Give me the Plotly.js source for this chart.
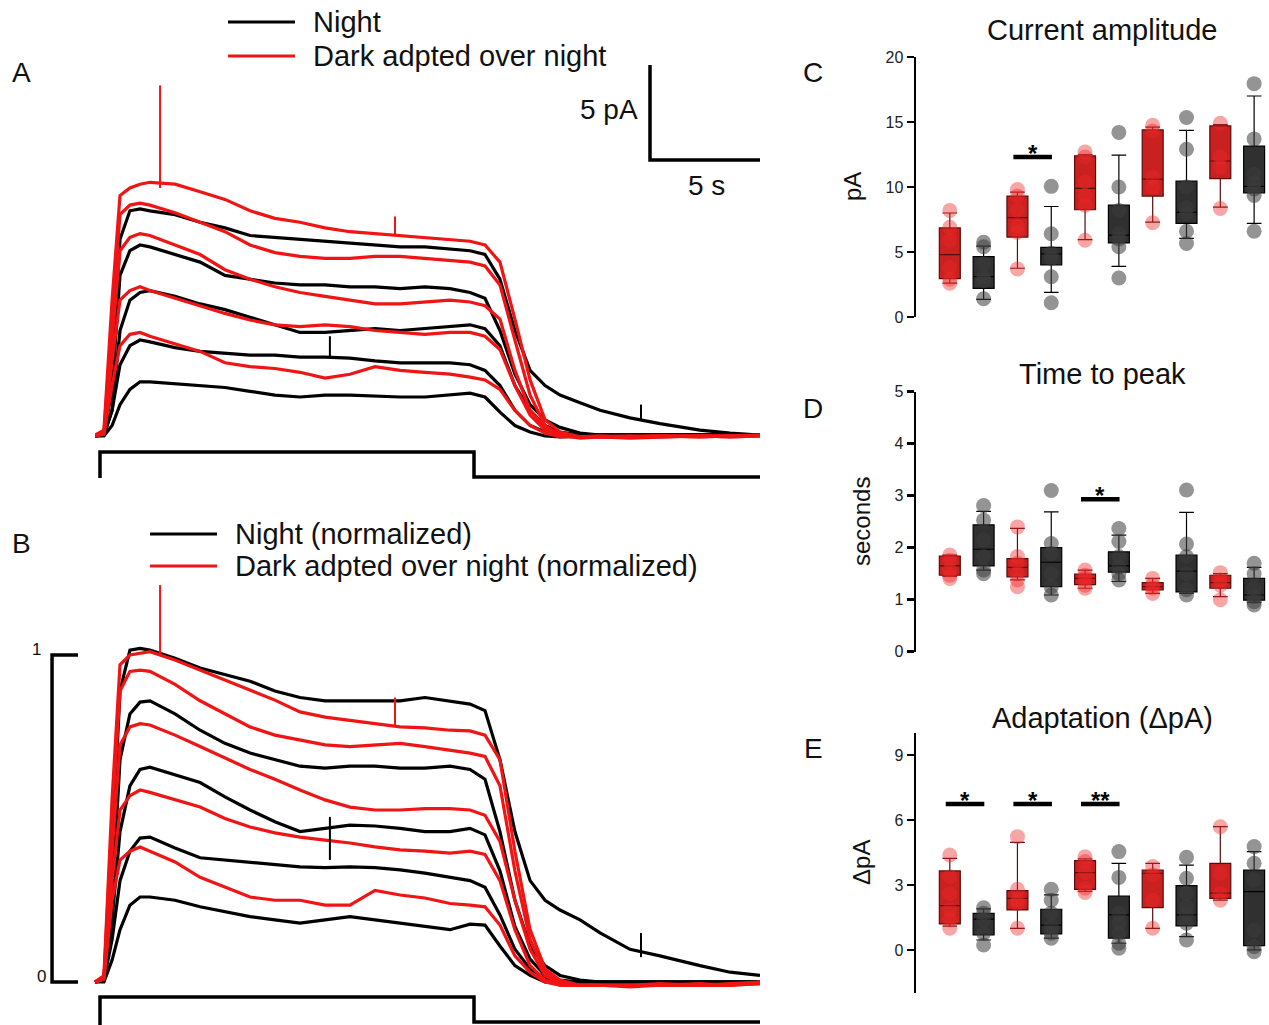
<!DOCTYPE html>
<html><head><meta charset="utf-8">
<script src="https://cdn.plot.ly/plotly-3.0.1.min.js"></script>
<style>html,body{margin:0;padding:0;background:#fff}#chart{width:1269px;height:1025px}</style>
</head><body><div id="chart"></div>
<script>
// ---------- Panel A / B traces (time in s, light on 0..17 s) ----------
const timeS = [-0.23,0.18,0.55,0.91,1.36,1.82,2.27,3.41,4.55,5.68,6.82,7.95,9.09,10.23,11.36,12.5,13.64,14.77,15.91,16.82,17.5,18.18,18.86,19.55,20.23,20.91,21.82,22.73,24.09,25.45,27.27,28.64,30];
const lightOn = 0, lightOff = 17, recEnd = 30;

// Panel A, current (pA)
const nightA1 = [-0.05,0.05,2.9,10.3,11.8,11.9,11.8,11.6,11.2,10.9,10.5,10.4,10.3,10.2,10.1,10.0,9.9,9.9,9.8,9.7,9.5,8.2,5.5,3.4,2.6,2.1,1.7,1.3,0.9,0.6,0.26,0.1,0];
const nightA2 = [-0.05,0.05,2.4,8.4,9.7,10.0,9.9,9.5,9.1,8.4,8.2,8.0,7.9,7.9,7.8,7.8,7.7,7.8,7.7,7.5,7.2,5.5,3.2,1.6,0.8,0.4,0.1,0,0,0,0,0,0];
const nightA3 = [-0.05,0,1.3,5.5,7.1,7.5,7.6,7.3,6.9,6.6,6.2,5.8,5.4,5.4,5.5,5.6,5.5,5.6,5.7,5.8,5.6,4.7,2.6,1.3,0.5,0.16,0,0,0,0,0,0,0];
const nightA4 = [-0.05,0,1.3,3.7,4.7,5.0,4.9,4.6,4.4,4.3,4.2,4.2,4.1,4.1,4.05,3.9,3.8,3.8,3.8,3.7,3.4,2.6,1.3,0.5,0.16,0,0,0,0,0,0,0,0];
const nightA5 = [-0.05,-0.05,0.5,1.6,2.4,2.8,2.8,2.7,2.6,2.5,2.3,2.1,2.0,2.1,2.1,2.05,2.0,2.0,2.1,2.2,2.0,1.2,0.5,0.16,-0.05,-0.1,-0.05,0,0,0,0,0,0];
const darkA1 = [0,0.26,7.1,12.6,13.0,13.2,13.3,13.2,12.8,12.4,11.8,11.4,11.2,10.9,10.7,10.6,10.5,10.4,10.3,10.2,10.0,9.1,6.1,2.9,0.8,0.16,-0.1,-0.1,-0.1,-0.05,-0.05,-0.05,0];
const darkA2 = [-0.05,0.16,6.05,11.6,12.1,12.2,12.1,11.7,11.2,10.7,10.0,9.6,9.4,9.3,9.3,9.4,9.4,9.3,9.2,9.1,8.9,7.9,5.0,2.1,0.5,0,-0.16,-0.1,-0.16,-0.1,-0.05,-0.1,-0.05];
const darkA3 = [-0.05,0.1,5.0,9.7,10.4,10.6,10.5,10.0,9.5,8.7,8.2,7.8,7.5,7.3,7.1,6.9,6.9,7.0,7.1,7.0,6.8,6.1,3.4,1.3,0.4,0,-0.1,-0.1,-0.1,-0.05,-0.1,-0.05,0];
const darkA4 = [-0.05,0.1,3.9,7.1,7.6,7.8,7.6,7.2,6.8,6.4,6.05,5.8,5.7,5.8,5.7,5.5,5.4,5.3,5.4,5.4,5.2,4.5,2.6,1.05,0.26,-0.05,-0.1,-0.1,-0.05,-0.1,-0.05,-0.1,-0.05];
const darkA5 = [-0.05,0.05,2.6,4.7,5.3,5.4,5.2,4.8,4.4,3.8,3.6,3.5,3.3,3.0,3.2,3.6,3.4,3.3,3.2,3.05,2.9,2.4,1.3,0.5,0.1,-0.1,-0.1,-0.05,-0.1,-0.05,-0.1,-0.05,-0.05];
const spikeA_t = [2.73,13.41,10.45,24.59];
const spikeA_from = [13.0,10.5,5.2,0.8];
const spikeA_to = [18.4,11.5,4.1,1.6];
const spike_isDark = [true,true,false,false];

// Panel B, normalized
const nightB1 = [0,0.012,0.40,0.89,1.015,1.02,1.015,0.99,0.96,0.94,0.92,0.89,0.87,0.86,0.86,0.86,0.86,0.87,0.86,0.85,0.83,0.68,0.46,0.31,0.25,0.22,0.19,0.15,0.10,0.08,0.05,0.03,0.02];
const nightB2 = [0,0.01,0.25,0.68,0.82,0.856,0.86,0.82,0.77,0.73,0.70,0.68,0.66,0.654,0.66,0.66,0.654,0.654,0.66,0.65,0.62,0.46,0.25,0.11,0.05,0.02,0.006,0,0,0,0,0,0];
const nightB3 = [0,0.005,0.19,0.46,0.60,0.65,0.657,0.633,0.61,0.566,0.526,0.49,0.46,0.47,0.48,0.477,0.47,0.46,0.46,0.47,0.45,0.34,0.17,0.07,0.02,0.006,0,0,0,0,0,0,0];
const nightB4 = [0,0.005,0.13,0.31,0.40,0.44,0.443,0.41,0.38,0.373,0.364,0.358,0.352,0.35,0.352,0.35,0.343,0.333,0.32,0.31,0.29,0.205,0.10,0.04,0.012,0,0,0,0,0,0,0,0];
const nightB5 = [0,0,0.067,0.16,0.235,0.26,0.26,0.25,0.23,0.214,0.2,0.19,0.18,0.19,0.2,0.19,0.18,0.168,0.16,0.177,0.174,0.11,0.05,0.02,0,-0.005,0,0,0,0,0,0,0];
const darkB1 = [0,0.02,0.56,0.97,1.0,1.006,1.01,0.985,0.954,0.924,0.893,0.862,0.826,0.81,0.80,0.79,0.78,0.777,0.77,0.768,0.755,0.68,0.40,0.16,0.04,0.006,-0.01,-0.01,-0.01,-0.005,-0.01,-0.005,0];
const darkB2 = [0,0.015,0.50,0.89,0.95,0.954,0.95,0.91,0.86,0.82,0.78,0.755,0.74,0.725,0.72,0.725,0.73,0.72,0.71,0.70,0.69,0.60,0.34,0.13,0.03,0,-0.01,-0.01,-0.015,-0.01,-0.01,-0.01,-0.005];
const darkB3 = [0,0.012,0.40,0.725,0.78,0.79,0.786,0.755,0.72,0.685,0.65,0.62,0.587,0.557,0.535,0.526,0.526,0.53,0.53,0.526,0.51,0.43,0.25,0.10,0.02,-0.006,-0.01,-0.01,-0.01,-0.01,-0.005,-0.01,0];
const darkB4 = [0,0.01,0.31,0.526,0.57,0.587,0.58,0.557,0.535,0.50,0.474,0.456,0.443,0.434,0.425,0.413,0.404,0.40,0.394,0.40,0.39,0.31,0.16,0.05,0.006,-0.01,-0.01,-0.01,-0.01,-0.01,-0.01,-0.01,-0.005];
const darkB5 = [0,0.01,0.25,0.373,0.40,0.413,0.40,0.367,0.32,0.29,0.26,0.25,0.25,0.235,0.235,0.28,0.266,0.257,0.24,0.235,0.23,0.174,0.08,0.03,0,-0.01,-0.01,-0.01,-0.01,-0.01,-0.01,-0.01,0];
const spikeB_from = [1.0,0.78,0.505,0.15];
const spikeB_to = [1.214,0.87,0.373,0.076];

// ---------- Panel C/D/E box summaries (order: dark, night, dark, night ...) ----------
const ampQ1  = [2.95,2.2,6.15,4.0,8.25,5.7,9.3,7.2,10.65,9.55];
const ampMed = [4.8,3.1,7.65,4.85,9.9,6.3,10.6,8.05,12.0,10.05];
const ampQ3  = [6.85,4.65,9.3,5.35,12.4,8.6,14.4,10.45,14.7,13.15];
const ampLo  = [2.6,1.35,3.75,1.9,5.95,3.9,7.3,6.05,8.45,7.2];
const ampHi  = [8.0,5.45,9.6,8.5,12.5,12.45,14.6,14.35,14.8,17.0];
const ampPts = [[8.2,6.9,5.9,3.8,2.9,2.6],[5.75,5.4,4.1,3.1,2.8,1.4],[9.8,9.3,8.2,7.0,6.5,3.7],[10.05,6.4,4.9,4.5,3.1,1.1],[12.7,12.3,10.4,9.35,8.6,5.9],[14.2,10.0,8.2,6.4,6.0,5.4,3.0],[14.75,14.3,10.75,10.0,7.25],[15.35,12.9,10.0,8.4,7.95,6.6,5.65],[14.9,12.3,11.55,8.35],[17.95,13.7,11.0,10.3,9.85,9.35,6.6]];

const ttpQ1  = [1.47,1.65,1.44,1.25,1.29,1.53,1.19,1.15,1.22,0.99];
const ttpMed = [1.65,1.97,1.62,1.72,1.41,1.65,1.25,1.55,1.33,1.09];
const ttpQ3  = [1.84,2.44,1.79,2.0,1.49,1.92,1.33,1.86,1.47,1.41];
const ttpLo  = [1.45,1.57,1.38,1.09,1.22,1.35,1.12,1.12,1.06,0.95];
const ttpHi  = [1.86,2.7,2.37,2.69,1.57,2.24,1.41,2.68,1.5,1.62];
const ttpPts = [[1.86,1.76,1.57,1.47,1.41],[2.81,2.53,2.15,1.83,1.57,1.5],[2.4,1.83,1.7,1.5,1.38,1.25],[3.1,2.08,1.89,1.5,1.25,1.09],[1.57,1.47,1.41,1.28,1.22],[2.37,2.12,1.83,1.63,1.5,1.38],[1.41,1.28,1.22,1.12],[3.11,2.07,1.83,1.5,1.19,1.09],[1.52,1.38,1.28,1.0],[1.7,1.5,1.22,1.06,0.96,0.9]];

const adQ1  = [1.2,0.69,1.85,0.74,2.8,0.54,1.95,1.11,2.38,0.2];
const adMed = [2.05,1.42,2.38,1.15,3.57,1.62,3.54,1.62,2.62,2.69];
const adQ3  = [3.65,1.69,2.74,1.88,4.12,2.49,3.69,2.97,4.0,3.69];
const adLo  = [1.1,0.46,1.0,0.55,2.7,0.31,1.0,0.62,2.3,0.0];
const adHi  = [4.23,1.9,4.97,2.54,4.2,4.0,4.0,3.92,5.69,4.54];
const adPts = [[4.38,3.38,2.6,1.85,1.4,1.0],[1.95,1.7,1.38,0.77,0.23],[5.23,2.8,2.3,2.15,1.0],[2.8,2.3,1.7,1.08,0.77,0.54],[4.3,4.08,3.57,2.85,2.65],[4.54,3.35,1.69,1.23,0.77,0.31,0.08],[3.85,3.46,2.3,1.0],[4.28,3.31,2.62,2.0,1.62,1.23,0.46],[5.69,3.54,2.62,2.3],[4.77,4.0,3.23,0.92,0.15,-0.08]];

const sigC = [[2,3,'*']], sigCy = 12.3;
const sigD = [[4,5,'*']], sigDy = 2.93;
const sigE = [[0,1,'*'],[2,3,'*'],[4,5,'**']], sigEy = 6.74;

const scaleBarPA = 5, scaleBarS = 5;
// ---------------------------------------------------------------------------
const W = 1269, H = 1025;
const px = x => x / W, py = y => 1 - y / H;
const RED = '#f01414', BLK = '#000000';
const FONT = 'Liberation Sans, Arial, sans-serif';
const traces = [];
function line(xa, ya, x, y, color, w) {
  traces.push({type:'scatter', mode:'lines', xaxis:xa, yaxis:ya, x:x, y:y,
    line:{color:color, width:w}, hoverinfo:'skip'});
}
const nightA = [nightA1,nightA2,nightA3,nightA4,nightA5];
const darkA = [darkA1,darkA2,darkA3,darkA4,darkA5];
const nightB = [nightB1,nightB2,nightB3,nightB4,nightB5];
const darkB = [darkB1,darkB2,darkB3,darkB4,darkB5];

nightA.forEach(v => line('x','y',timeS,v,BLK,3.2));
darkA.forEach(v => line('x','y',timeS,v,RED,3.2));
spikeA_t.forEach((t,i) => line('x','y',[t,t],[spikeA_from[i],spikeA_to[i]], spike_isDark[i]?RED:BLK, 2));
nightB.forEach(v => line('x2','y2',timeS,v,BLK,3.2));
darkB.forEach(v => line('x2','y2',timeS,v,RED,3.2));
spikeA_t.forEach((t,i) => line('x2','y2',[t,t],[spikeB_from[i],spikeB_to[i]], spike_isDark[i]?RED:BLK, 2));

// stimulus traces
line('x','y',[lightOn,lightOn,lightOff,lightOff,recEnd],[-2.26,-0.89,-0.89,-2.21,-2.21],BLK,3.5);
line('x2','y2',[lightOn,lightOn,lightOff,lightOff,recEnd],[-0.14,-0.046,-0.046,-0.122,-0.122],BLK,3.5);
// scale bars
const sbTop = 19.47, sbX = recEnd - scaleBarS;
line('x','y',[sbX,sbX,recEnd],[sbTop,sbTop-scaleBarPA,sbTop-scaleBarPA],BLK,3.5);
line('x2','y2',[-1.0,-2.18,-2.18,-1.0],[1,1,0,0],BLK,3.5);

const annotations = [];
function boxPanel(xa, ya, q1, med, q3, lo, hi, pts, sig, sigY, starOff) {
  [0,1].forEach(g => {
    const idx = q1.map((_,i)=>i).filter(i => i%2===g);
    traces.push({type:'box', xaxis:xa, yaxis:ya, x:idx,
      q1:idx.map(i=>q1[i]), median:idx.map(i=>med[i]), q3:idx.map(i=>q3[i]),
      lowerfence:idx.map(i=>lo[i]), upperfence:idx.map(i=>hi[i]),
      width:0.62, whiskerwidth:0.7, boxpoints:false,
      fillcolor: g ? '#303030' : '#c92020',
      line:{color: g ? '#000000' : '#5a0c0c', width:1.2}, hoverinfo:'skip'});
  });
  [0,1].forEach(g => {
    const xs = [], ys = [];
    pts.forEach((arr,i) => { if (i%2===g) arr.forEach(v => { xs.push(i); ys.push(v); }); });
    traces.push({type:'scatter', mode:'markers', xaxis:xa, yaxis:ya, x:xs, y:ys, cliponaxis:false,
      marker:{size:15, color: g ? 'rgba(60,60,60,0.55)' : 'rgba(238,40,40,0.42)', line:{width:0}},
      hoverinfo:'skip'});
  });
  sig.forEach(s => {
    line(xa, ya, [s[0]-0.12, s[1]+0.02], [sigY, sigY], BLK, 4.5);
    annotations.push({xref:xa, yref:ya, x:(s[0]+s[1])/2-0.05, y:sigY+starOff, text:'<b>'+s[2]+'</b>', showarrow:false,
      yanchor:'middle', font:{family:FONT, size:24, color:'#000'}});
  });
}
boxPanel('x3','y3',ampQ1,ampMed,ampQ3,ampLo,ampHi,ampPts,sigC,sigCy,0.3);
boxPanel('x4','y4',ttpQ1,ttpMed,ttpQ3,ttpLo,ttpHi,ttpPts,sigD,sigDy,0.08);
boxPanel('x5','y5',adQ1,adMed,adQ3,adLo,adHi,adPts,sigE,sigEy,0.18);

function txt(x, y, text, size, xanchor, extra) {
  annotations.push(Object.assign({xref:'paper', yref:'paper', x:px(x), y:py(y), text:text, showarrow:false,
    xanchor:xanchor||'center', yanchor:'middle', font:{family:FONT, size:size, color:'#111'}}, extra||{}));
}
// panel letters
txt(21,73,'A',28); txt(21,543,'B',28); txt(813,73,'C',28); txt(813,408,'D',28); txt(813,748,'E',28);
// legends
txt(311,22,'Night',29,'left'); txt(311,56,'Dark adpted over night',29,'left');
txt(233,534,'Night (normalized)',29,'left'); txt(233,566,'Dark adpted over night (normalized)',29,'left');
// scale bar labels
txt(640,110,'5 pA',28,'right'); txt(706,186,'5 s',28);
txt(36,649,'1',17); txt(41,976,'0',17);
// titles
txt(1102,30,'Current amplitude',29); txt(1102,374,'Time to peak',29); txt(1102,718,'Adaptation (ΔpA)',29);
// y titles
txt(853,187,'pA',24,'center',{textangle:-90});
txt(861,522,'seconds',24,'center',{textangle:-90});
txt(861,863,'ΔpA',24,'center',{textangle:-90});

const shapes = [
  {type:'line', xref:'paper', yref:'paper', x0:px(228), x1:px(295), y0:py(22), y1:py(22), line:{color:BLK, width:3}},
  {type:'line', xref:'paper', yref:'paper', x0:px(228), x1:px(295), y0:py(56), y1:py(56), line:{color:RED, width:3}},
  {type:'line', xref:'paper', yref:'paper', x0:px(150), x1:px(217), y0:py(534), y1:py(534), line:{color:BLK, width:3}},
  {type:'line', xref:'paper', yref:'paper', x0:px(150), x1:px(217), y0:py(566), y1:py(566), line:{color:RED, width:3}}
];

const hid = {visible:false, fixedrange:true};
function yBox(anchor, dom, range, tv) {
  return {anchor:anchor, domain:dom, range:range, tickvals:tv, showline:true, linecolor:'#000', linewidth:2.5,
    ticks:'outside', ticklen:7, tickwidth:2.5, tickcolor:'#000', showgrid:false, zeroline:false,
    tickfont:{family:FONT, size:16, color:'#222'}, fixedrange:true};
}
const boxX = () => Object.assign({}, hid, {domain:[px(916),1], range:[-1.0,9.44]});
const layout = {
  width:W, height:H, margin:{l:0,r:0,t:0,b:0}, showlegend:false,
  paper_bgcolor:'#ffffff', plot_bgcolor:'rgba(0,0,0,0)', boxmode:'overlay',
  font:{family:FONT},
  xaxis: Object.assign({}, hid, {anchor:'y', domain:[px(95),px(760)], range:[-0.227,30]}),
  yaxis: Object.assign({}, hid, {anchor:'x', domain:[py(480),py(60)], range:[-2.368,19.737]}),
  xaxis2: Object.assign({}, hid, {anchor:'y2', domain:[px(30),px(760)], range:[-3.182,30]}),
  yaxis2: Object.assign({}, hid, {anchor:'x2', domain:[0,py(578)], range:[-0.1315,1.2355]}),
  xaxis3: Object.assign(boxX(), {anchor:'y3'}),
  yaxis3: yBox('x3', [py(317),py(57)], [0,20], [0,5,10,15,20]),
  xaxis4: Object.assign(boxX(), {anchor:'y4'}),
  yaxis4: yBox('x4', [py(651.7),py(391.7)], [0,5], [0,1,2,3,4,5]),
  xaxis5: Object.assign(boxX(), {anchor:'y5'}),
  yaxis5: yBox('x5', [py(993.3),py(733.3)], [-2,10], [0,3,6,9]),
  annotations: annotations, shapes: shapes
};
Plotly.newPlot('chart', traces, layout, {staticPlot:true, displayModeBar:false});
</script></body></html>
